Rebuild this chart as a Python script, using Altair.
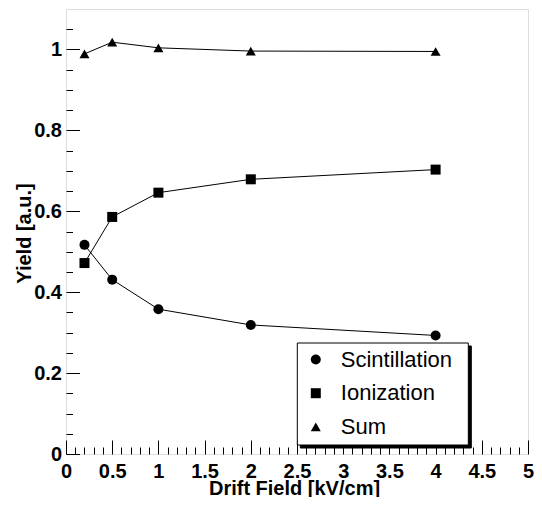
import altair as alt
import pandas as pd

# ---- data ----
drift_field = [0.2, 0.5, 1.0, 2.0, 4.0]
scintillation = [0.517, 0.431, 0.358, 0.319, 0.293]
ionization = [0.472, 0.586, 0.646, 0.679, 0.703]
total = [0.989, 1.018, 1.004, 0.996, 0.995]
series_names = ["Scintillation", "Ionization", "Sum"]
series_shapes = ["circle", "square", "triangle-up"]

x_label_ticks = [0, 0.5, 1, 1.5, 2, 2.5, 3, 3.5, 4, 4.5, 5]
y_label_ticks = [0, 0.2, 0.4, 0.6, 0.8, 1.0]
x_all_ticks = [round(i * 0.1, 1) for i in range(51)]
y_all_ticks = [round(i * 0.05, 2) for i in range(22)]

rows = []
for name, vals in zip(series_names, [scintillation, ionization, total]):
    for xv, yv in zip(drift_field, vals):
        rows.append({"field": xv, "yield": yv, "series": name, "s2": name})
df = pd.DataFrame(rows)

W, H = 462, 445
FONT = "Liberation Sans"

x_scale = alt.Scale(domain=[0, 5], nice=False, zero=False)
y_scale = alt.Scale(domain=[0, 1.1], nice=False, zero=False)

major_x = "abs(datum.value*2 - round(datum.value*2)) < 0.001"
major_y = "abs(datum.value*5 - round(datum.value*5)) < 0.001"

base = alt.Chart(df)

lines = base.mark_line(color="black", strokeWidth=1).encode(
    x=alt.X(
        "field:Q",
        scale=x_scale,
        axis=alt.Axis(
            orient="bottom", values=x_label_ticks, format="~g",
            ticks=False, tickSize=0, domain=False, grid=False,
            labelFont=FONT, labelFontSize=20, labelFontWeight="bold",
            labelColor="black", labelPadding=7.5, labelFlush=False,
            labelOverlap=False,
            title="Drift Field [kV/cm]", titleFont=FONT, titleFontSize=20,
            titleFontWeight="bold", titleColor="black",
            titleX=228, titleY=40, titleBaseline="alphabetic",
            titleAlign="center",
        ),
    ),
    y=alt.Y(
        "yield:Q",
        scale=y_scale,
        axis=alt.Axis(
            orient="left", values=y_label_ticks, format="~g",
            ticks=False, tickSize=0, domain=False, grid=False,
            labelFont=FONT, labelFontSize=20, labelFontWeight="bold",
            labelColor="black", labelPadding=4.5, labelFlush=False,
            labelOverlap=False,
            title="Yield [a.u.]", titleFont=FONT, titleFontSize=20,
            titleFontWeight="bold", titleColor="black",
            titleAngle=270, titleX=-36, titleY=224,
            titleBaseline="alphabetic", titleAlign="center",
        ),
    ),
    detail="series:N",
)

legend_common = dict(
    orient="none", padding=6, rowPadding=11.7,
    symbolSize=100, symbolOffset=2, labelOffset=14,
    labelFont=FONT, labelFontSize=22, labelColor="black",
    symbolStrokeWidth=0, symbolFillColor="black", symbolStrokeColor="black",
    title=".", titleOrient="right", titleFontSize=5, titlePadding=8,
)

main_legend = alt.Legend(
    legendX=230.8, legendY=333.5, fillColor="white", strokeColor="black",
    titleColor="white", **legend_common,
)
shadow_legend = alt.Legend(
    legendX=233.8, legendY=336.5, fillColor="black", strokeColor="black",
    titleColor="black", **legend_common,
)

points = base.mark_point(filled=True, color="black", opacity=1).encode(
    x=alt.X(
        "field:Q",
        scale=x_scale,
        title=None,
        axis=alt.Axis(
            orient="top", offset=-H, values=x_all_ticks, labels=False,
            domain=False, grid=False, tickSize=14, tickColor="black",
            tickWidth=1,
            tickDash={"condition": {"test": major_x, "value": [30, 0]},
                      "value": [7, 30]},
        ),
    ),
    y=alt.Y(
        "yield:Q",
        scale=y_scale,
        title=None,
        axis=alt.Axis(
            orient="right", offset=-W, values=y_all_ticks, labels=False,
            domain=False, grid=False, tickSize=13.5, tickColor="black",
            tickWidth=1,
            tickDash={"condition": {"test": major_y, "value": [30, 0]},
                      "value": [6.5, 30]},
        ),
    ),
    shape=alt.Shape(
        "series:N",
        scale=alt.Scale(domain=series_names, range=series_shapes),
        legend=main_legend,
    ),
    size=alt.Size(
        "s2:O",
        sort=series_names,
        scale=alt.Scale(range=[100, 100]),
        legend=shadow_legend,
    ),
)

chart = (
    alt.layer(lines, points)
    .resolve_axis(x="independent", y="independent")
    .properties(
        width=W,
        height=H,
        padding={"left": 58, "top": 1, "right": 6, "bottom": 43},
        autosize=alt.AutoSizeParams(type="none"),
    )
    .configure_view(stroke="black", strokeWidth=1)
    .configure(font=FONT)
)

chart.save("out.html", embed_options={"renderer": "svg", "actions": False})
